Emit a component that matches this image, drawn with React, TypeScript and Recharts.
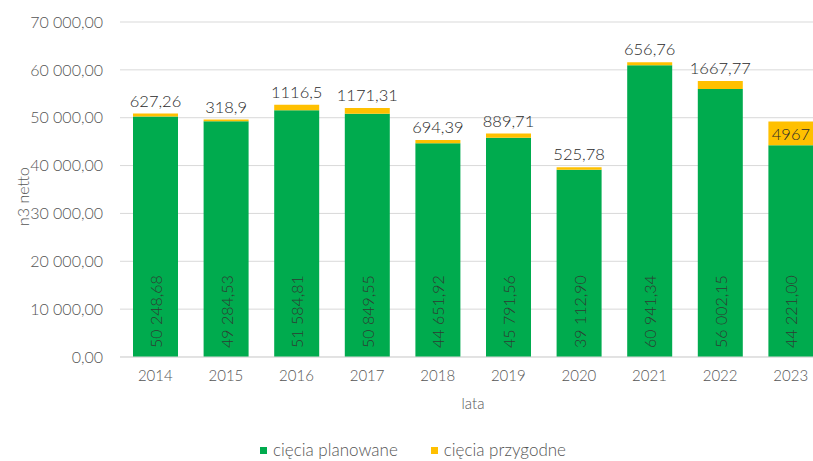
import { BarChart, Bar, XAxis, YAxis, CartesianGrid, Legend, LabelList } from "recharts";

const YEARS = ["2014", "2015", "2016", "2017", "2018", "2019", "2020", "2021", "2022", "2023"];
const PLANOWANE = [50248.68, 49284.53, 51584.81, 50849.55, 44651.92, 45791.56, 39112.9, 60941.34, 56002.15, 44221.0];
const PRZYGODNE = [627.26, 318.9, 1116.5, 1171.31, 694.39, 889.71, 525.78, 656.76, 1667.77, 4967];
const Y_TICKS = [0, 10000, 20000, 30000, 40000, 50000, 60000, 70000];

const GREEN = "#00AB4E";
const YELLOW = "#FFC000";
const TEXT = "#555555";
const FONT = "Lato, 'Open Sans', sans-serif";
const LIGHT = 300;

const data = YEARS.map((year, i) => ({ year, planowane: PLANOWANE[i], przygodne: PRZYGODNE[i] }));

// "50 248,68" style
function fmt2(v: number) {
  const [int, dec] = v.toFixed(2).split(".");
  return int.replace(/\B(?=(\d{3})+(?!\d))/g, " ") + "," + dec;
}

function PlannedLabel(props: any) {
  const { x, y, width, height, value } = props;
  const cx = x + width / 2;
  const cy = y + height - 9;
  return (
    <text x={cx} y={cy} transform={`rotate(-90 ${cx} ${cy})`} textAnchor="start" dominantBaseline="central"
      fill="#2e3b33" fontSize={16} fontWeight={LIGHT} fontFamily={FONT}>
      {fmt2(value)}
    </text>
  );
}

function RandomLabel(props: any) {
  const { x, y, width, height, value } = props;
  // big segment (2023) holds its label inside
  const inside = height > 18;
  const cy = inside ? y + 12 : y - 13;
  return (
    <text x={x + width / 2} y={cy} textAnchor="middle" dominantBaseline="central"
      fill="#2a2a2a" fontSize={16.5} fontWeight={LIGHT} fontFamily={FONT}>
      {String(value).replace(".", ",")}
    </text>
  );
}

function YLabel(props: any) {
  const cx = 22;
  const cy = (props.viewBox?.y ?? 22) + (props.viewBox?.height ?? 335) / 2 + 7;
  return (
    <text x={cx} y={cy} transform={`rotate(-90 ${cx} ${cy})`} textAnchor="middle" dominantBaseline="central"
      fill={TEXT} fontSize={16} fontWeight={LIGHT} fontFamily={FONT}>
      n3 netto
    </text>
  );
}

function LegendBox() {
  const items = [
    { name: "cięcia planowane", color: GREEN },
    { name: "cięcia przygodne", color: YELLOW },
  ];
  return (
    <div style={{ display: "flex", justifyContent: "center", gap: 33, paddingTop: 3, lineHeight: "20px", fontFamily: FONT, fontWeight: LIGHT, fontSize: 17, color: TEXT }}>
      {items.map((it) => (
        <span key={it.name} style={{ display: "flex", alignItems: "center", gap: 6 }}>
          <span style={{ width: 7, height: 7, background: it.color, display: "inline-block" }} />
          {it.name}
        </span>
      ))}
    </div>
  );
}

export default function App() {
  return (
    <div style={{ position: "fixed", left: 0, top: 0, width: 813, height: 461, overflow: "hidden", background: "#fff" }}>
      <BarChart width={840} height={461} data={data} margin={{ top: 22, right: 14, left: 0, bottom: 0 }} barSize={45}>
        <CartesianGrid vertical={false} stroke="#d9d9d9" />
        <XAxis dataKey="year" height={80} axisLine={{ stroke: "#d9d9d9" }} tickLine={false} tickMargin={7}
          tick={{ fill: TEXT, fontSize: 15, fontWeight: LIGHT, fontFamily: FONT }}
          label={{ value: "lata", position: "insideBottom", offset: 28, fill: TEXT, fontSize: 15, fontWeight: LIGHT, fontFamily: FONT }} />
        <YAxis width={120} domain={[0, 70000]} ticks={Y_TICKS} axisLine={false} tickLine={false} tickMargin={11}
          tickFormatter={fmt2} tick={{ fill: TEXT, fontSize: 16, fontWeight: LIGHT, fontFamily: FONT }}
          label={<YLabel />} />
        <Legend verticalAlign="bottom" height={24} content={() => <LegendBox />} />
        <Bar dataKey="planowane" name="cięcia planowane" stackId="a" fill={GREEN} isAnimationActive={false}>
          <LabelList dataKey="planowane" content={PlannedLabel} />
        </Bar>
        <Bar dataKey="przygodne" name="cięcia przygodne" stackId="a" fill={YELLOW} isAnimationActive={false}>
          <LabelList dataKey="przygodne" content={RandomLabel} />
        </Bar>
      </BarChart>
    </div>
  );
}
